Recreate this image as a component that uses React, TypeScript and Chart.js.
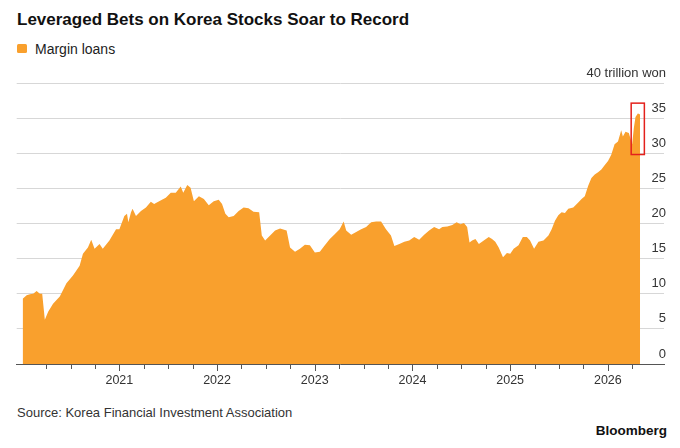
import React, { useEffect, useRef } from "react";
import { Chart, registerables } from "chart.js";

Chart.register(...registerables);

// Decimal-year dates of the readings
const DATES: number[] = [
  2020.01, 2020.051, 2020.084, 2020.118, 2020.153, 2020.186, 2020.21, 2020.237, 2020.271, 2020.321,
  2020.39, 2020.458, 2020.525, 2020.593, 2020.627, 2020.678, 2020.712, 2020.746, 2020.797, 2020.83,
  2020.898, 2020.966, 2021.0, 2021.051, 2021.078, 2021.092, 2021.119, 2021.135, 2021.17, 2021.221,
  2021.272, 2021.322, 2021.356, 2021.407, 2021.475, 2021.526, 2021.577, 2021.628, 2021.654, 2021.695,
  2021.729, 2021.763, 2021.814, 2021.865, 2021.915, 2021.966, 2022.017, 2022.051, 2022.085, 2022.119,
  2022.17, 2022.221, 2022.272, 2022.322, 2022.373, 2022.431, 2022.458, 2022.492, 2022.543, 2022.594,
  2022.645, 2022.712, 2022.747, 2022.798, 2022.848, 2022.899, 2022.95, 2023.001, 2023.052, 2023.103,
  2023.154, 2023.204, 2023.255, 2023.296, 2023.322, 2023.373, 2023.424, 2023.475, 2023.526, 2023.577,
  2023.628, 2023.679, 2023.729, 2023.78, 2023.815, 2023.866, 2023.917, 2023.967, 2024.018, 2024.069,
  2024.12, 2024.171, 2024.222, 2024.273, 2024.306, 2024.357, 2024.408, 2024.452, 2024.492, 2024.527,
  2024.56, 2024.584, 2024.611, 2024.645, 2024.68, 2024.73, 2024.781, 2024.815, 2024.848, 2024.883,
  2024.927, 2024.967, 2025.001, 2025.036, 2025.086, 2025.13, 2025.171, 2025.204, 2025.245, 2025.29,
  2025.341, 2025.392, 2025.425, 2025.459, 2025.493, 2025.527, 2025.561, 2025.595, 2025.646, 2025.697,
  2025.731, 2025.764, 2025.799, 2025.832, 2025.866, 2025.9, 2025.934, 2025.967, 2026.002, 2026.035,
  2026.069, 2026.104, 2026.137, 2026.154, 2026.181, 2026.215, 2026.249, 2026.266, 2026.283, 2026.307,
  2026.323, 2026.33,
];

// Margin loans, trillion won
const MARGIN_LOANS: number[] = [
  9.3, 9.8, 9.95, 10.0, 10.4, 10.0, 10.0, 6.3, 7.45, 8.6,
  9.6, 11.5, 12.6, 14.0, 15.7, 16.6, 17.7, 16.4, 17.1, 16.4,
  17.6, 19.2, 19.2, 21.1, 21.4, 20.2, 21.6, 22.1, 21.1, 21.8,
  22.3, 23.1, 22.8, 23.2, 23.7, 24.4, 24.4, 25.3, 24.4, 25.5,
  25.1, 23.2, 23.9, 23.5, 22.6, 23.2, 23.4, 22.8, 21.4, 20.9,
  21.1, 21.8, 22.3, 22.2, 21.7, 21.6, 18.3, 17.6, 18.3, 19.0,
  19.3, 19.0, 16.6, 16.0, 16.4, 17.0, 16.9, 15.9, 16.0, 16.9,
  17.8, 18.5, 19.2, 20.3, 19.0, 18.4, 18.8, 19.2, 19.5, 20.2,
  20.3, 20.3, 19.2, 18.3, 16.8, 17.1, 17.4, 17.6, 18.1, 17.7,
  18.4, 19.0, 19.5, 19.2, 19.5, 19.6, 19.8, 20.2, 19.9, 20.1,
  19.5, 17.3, 17.6, 17.8, 17.1, 17.6, 18.1, 17.8, 17.4, 16.6,
  15.2, 15.8, 15.7, 16.4, 16.9, 18.1, 18.1, 17.6, 16.4, 17.4,
  17.6, 18.3, 19.2, 20.4, 21.2, 21.6, 21.5, 22.1, 22.3, 23.0,
  23.5, 23.9, 25.4, 26.5, 27.0, 27.3, 27.7, 28.3, 28.9, 29.8,
  31.3, 31.7, 33.3, 32.4, 33.1, 32.9, 31.3, 33.6, 35.2, 35.7,
  35.6, 35.5,
];

const YEAR_LABELS: number[] = [2021, 2022, 2023, 2024, 2025, 2026];
const Y_TICKS: number[] = [0, 5, 10, 15, 20, 25, 30, 35, 40];
const Y_UNIT = "trillion won";
const HIGHLIGHT_X: number[] = [2026.239, 2026.374];
const HIGHLIGHT_Y: number[] = [29.84, 37.16];

const QUARTERS: number[] = [];
for (let i = 1; i <= 25; i++) QUARTERS.push(2020 + i * 0.25);

const FONT = '"Liberation Sans", Arial, Helvetica, sans-serif';
const ORANGE = "#F9A02D";

const tickAndBoxPlugin = {
  id: "tickAndBox",
  afterDraw(chart: any) {
    const ctx = chart.ctx;
    const xs = chart.scales.x;
    const ys = chart.scales.y;
    const bottom = chart.chartArea.bottom;
    ctx.save();
    ctx.strokeStyle = "#555555";
    ctx.lineWidth = 1;
    QUARTERS.forEach((v) => {
      const px = Math.round(xs.getPixelForValue(v)) + 0.5;
      const len = Number.isInteger(v) ? 7 : 5;
      ctx.beginPath();
      ctx.moveTo(px, bottom);
      ctx.lineTo(px, bottom + len);
      ctx.stroke();
    });
    // highlight box
    const x1 = xs.getPixelForValue(HIGHLIGHT_X[0]);
    const x2 = xs.getPixelForValue(HIGHLIGHT_X[1]);
    const y1 = ys.getPixelForValue(HIGHLIGHT_Y[1]);
    const y2 = ys.getPixelForValue(HIGHLIGHT_Y[0]);
    ctx.strokeStyle = "#E3211C";
    ctx.lineWidth = 1.5;
    ctx.strokeRect(x1, y1, x2 - x1, y2 - y1);
    ctx.restore();
  },
};

function MarginChart() {
  const ref = useRef<HTMLCanvasElement | null>(null);
  useEffect(() => {
    if (!ref.current) return;
    const points = DATES.map((d, i) => ({ x: d, y: MARGIN_LOANS[i] }));
    const chart = new Chart(ref.current, {
      type: "line",
      data: {
        datasets: [
          {
            label: "Margin loans",
            data: points,
            borderWidth: 0,
            borderColor: ORANGE,
            backgroundColor: ORANGE,
            fill: "origin",
            pointRadius: 0,
            tension: 0,
          },
        ],
      },
      options: {
        animation: false,
        responsive: true,
        maintainAspectRatio: false,
        layout: { padding: { top: 23.2, left: 16.7, right: 12, bottom: 0 } },
        plugins: { legend: { display: false }, tooltip: { enabled: false } },
        scales: {
          x: {
            type: "linear",
            min: 2019.949,
            max: 2026.575,
            afterBuildTicks: (scale: any) => {
              scale.ticks = QUARTERS.map((v) => ({ value: v }));
            },
            grid: {
              display: true,
              drawOnChartArea: false,
              drawTicks: true,
              tickLength: 7,
              color: "rgba(0,0,0,0)",
            },
            border: { display: true, color: "#555555", width: 1 },
            ticks: {
              autoSkip: false,
              maxRotation: 0,
              padding: 2,
              color: "#333333",
              font: { family: FONT, size: 12.5 },
              callback: (v: any) => (YEAR_LABELS.includes(v) ? String(v) : ""),
            },
          },
          y: {
            type: "linear",
            position: "right",
            min: 0,
            max: 40,
            afterBuildTicks: (scale: any) => {
              scale.ticks = Y_TICKS.map((v) => ({ value: v }));
            },
            grid: { color: "#d7d7d7", lineWidth: 1, drawTicks: false },
            border: { display: false },
            ticks: {
              mirror: true,
              padding: 2,
              labelOffset: -10,
              color: "#333333",
              font: { family: FONT, size: 13 },
              callback: (v: any) => (v === 40 ? `40 ${Y_UNIT}` : String(v)),
            },
          },
        },
      },
      plugins: [tickAndBoxPlugin],
    });
    return () => chart.destroy();
  }, []);
  return <canvas ref={ref} />;
}

export default function App() {
  useEffect(() => {
    document.body.style.margin = "0";
  }, []);
  return (
    <div
      style={{
        position: "relative",
        width: 680,
        height: 448,
        background: "#fff",
        fontFamily: FONT,
        overflow: "hidden",
      }}
    >
      <div
        style={{
          position: "absolute",
          left: 17,
          top: 11,
          fontSize: 17,
          lineHeight: "17px",
          fontWeight: 700,
          color: "#111",
          whiteSpace: "nowrap",
        }}
      >
        Leveraged Bets on Korea Stocks Soar to Record
      </div>
      <div
        style={{
          position: "absolute",
          left: 17,
          top: 44,
          width: 10,
          height: 9,
          borderRadius: 1.5,
          background: ORANGE,
        }}
      />
      <div
        style={{
          position: "absolute",
          left: 35,
          top: 41.7,
          fontSize: 14,
          lineHeight: "14px",
          color: "#222",
          whiteSpace: "nowrap",
        }}
      >
        Margin loans
      </div>
      <div style={{ position: "absolute", left: 0, top: 60, width: 680, height: 330 }}>
        <MarginChart />
      </div>
      <div
        style={{
          position: "absolute",
          left: 17,
          top: 405.7,
          fontSize: 13,
          lineHeight: "13px",
          color: "#333",
          whiteSpace: "nowrap",
        }}
      >
        Source: Korea Financial Investment Association
      </div>
      <div
        style={{
          position: "absolute",
          right: 13,
          top: 423.8,
          fontSize: 13.5,
          lineHeight: "13.5px",
          fontWeight: 700,
          color: "#111",
          whiteSpace: "nowrap",
        }}
      >
        Bloomberg
      </div>
    </div>
  );
}
